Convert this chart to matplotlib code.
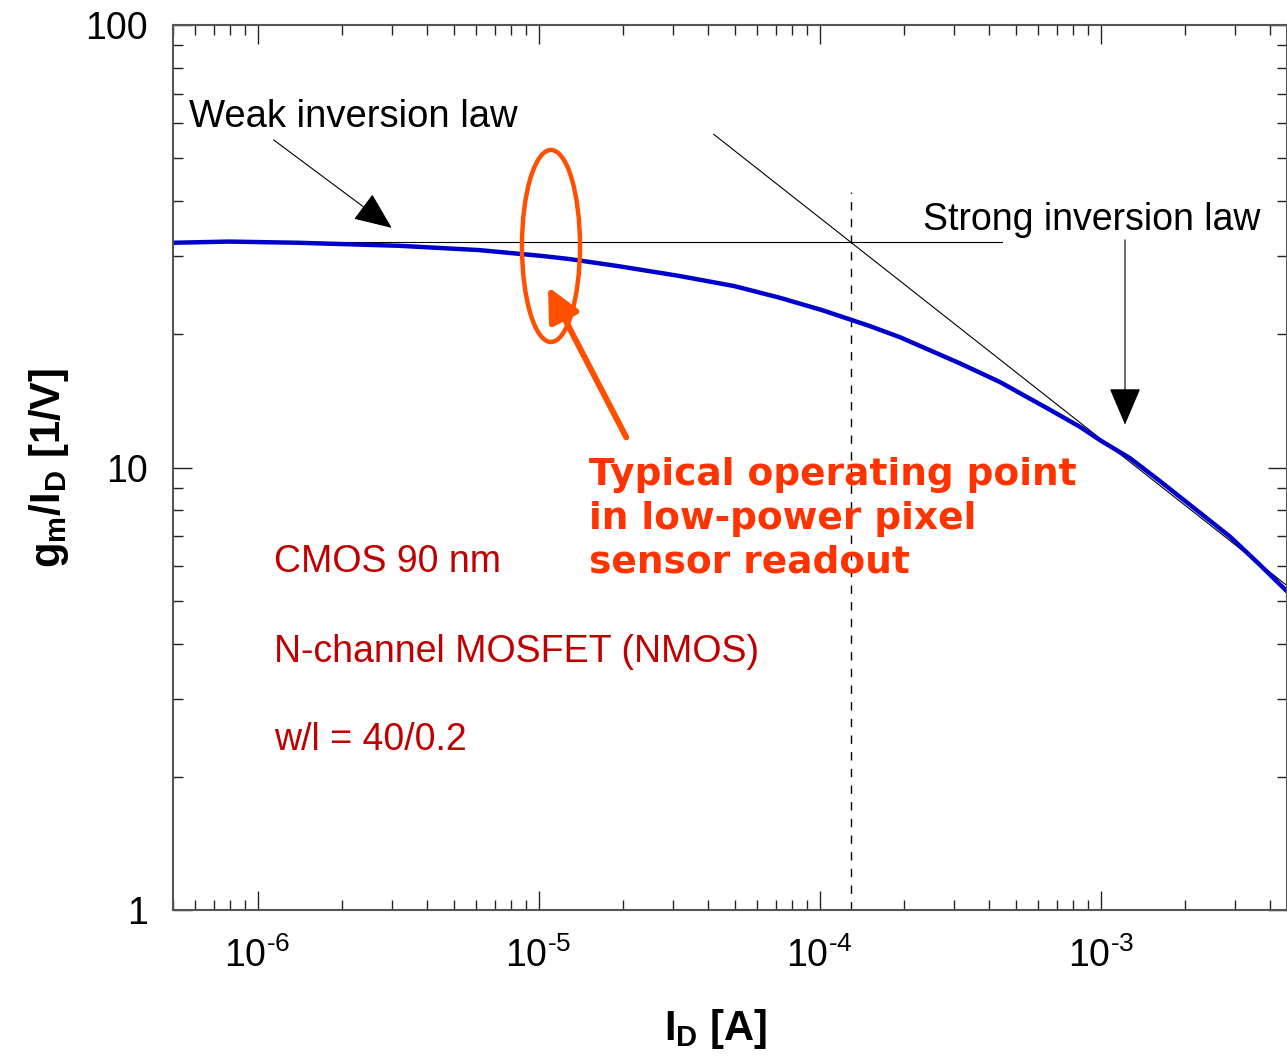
import matplotlib
matplotlib.use("Agg")
import matplotlib.pyplot as plt
from matplotlib.patches import Ellipse
from matplotlib.ticker import LogLocator, NullFormatter

plt.rcParams['font.family'] = ['Liberation Sans', 'DejaVu Sans']
plt.rcParams['mathtext.fontset'] = 'custom'
plt.rcParams['mathtext.rm'] = 'Liberation Sans'
plt.rcParams['mathtext.it'] = 'Liberation Sans:italic'
plt.rcParams['mathtext.bf'] = 'Liberation Sans:bold'

# gm/ID curve (NMOS 90 nm, w/l = 40/0.2)
id_amp = [5.0e-7, 7.9e-7, 1.4e-6, 3.18e-6, 6.13e-6, 1.01e-5, 1.28e-5, 1.93e-5,
          3.16e-5, 4.97e-5, 7.19e-5, 1.015e-4, 1.5e-4, 1.93e-4, 3.15e-4,
          4.38e-4, 6.6e-4, 8.45e-4, 1.0e-3, 1.27e-3, 1.63e-3, 2.26e-3,
          2.89e-3, 3.69e-3, 4.6e-3]
gm_id = [32.2, 32.4, 32.2, 31.7, 31.0, 30.1, 29.6, 28.5,
         27.1, 25.7, 24.2, 22.7, 20.9, 19.7, 17.2,
         15.6, 13.5, 12.35, 11.5, 10.5, 9.3, 7.89,
         6.97, 6.02, 5.25]

# asymptotes
weak_x = [5.0e-7, 4.44e-4]
weak_y = [32.3, 32.3]
strong_x = [4.2e-5, 4.6e-3]
strong_y = [56.6, 5.41]
cross_x = 1.29e-4
cross_ytop = 42.0

xticks = [1e-6, 1e-5, 1e-4, 1e-3]
xtick_labels = [r'10$^{\text{-6}}$', r'10$^{\text{-5}}$', r'10$^{\text{-4}}$', r'10$^{\text{-3}}$']
yticks = [1, 10, 100]
ytick_labels = ['1', '10', '100']

info_lines = ['CMOS 90 nm', 'N-channel MOSFET (NMOS)', 'w/l = 40/0.2']
info_y = [5.80, 3.64, 2.30]
op_lines = ['Typical operating point', 'in low-power pixel', 'sensor readout']
op_y = [9.13, 7.26, 5.78]

fig = plt.figure(figsize=(12.87, 10.63), dpi=100)
ax = fig.add_axes([173/1287, 1 - 910/1063, 1114/1287, 885/1063])

ax.set_xscale('log')
ax.set_yscale('log')
ax.set_xlim(5.0e-7, 4.6e-3)
ax.set_ylim(1, 100)

ax.plot(weak_x, weak_y, color='black', lw=0.8)
ax.plot(strong_x, strong_y, color='black', lw=0.8)
ax.plot([cross_x, cross_x], [1, cross_ytop], color='black', lw=1.0,
        linestyle=(0, (6, 6)))
ax.plot(id_amp, gm_id, color='#0000CC', lw=3.2, solid_capstyle='round',
        solid_joinstyle='round')

# axes styling
for sp in ax.spines.values():
    sp.set_color('#555555')
    sp.set_linewidth(1.5)
ax.tick_params(which='both', direction='in', top=True, right=True,
               colors='#222222', labelcolor='black')
ax.tick_params(which='major', length=14, width=1.0, labelsize=27)
ax.tick_params(which='minor', length=7, width=1.0)
ax.tick_params(axis='y', which='major', pad=18)
ax.tick_params(axis='x', which='major', pad=20)
ax.set_xticks(xticks)
ax.set_xticklabels(xtick_labels)
ax.xaxis.set_minor_locator(LogLocator(base=10, subs=range(2, 10), numticks=20))
ax.xaxis.set_minor_formatter(NullFormatter())
ax.set_yticks(yticks)
ax.set_yticklabels(ytick_labels)
ax.yaxis.set_minor_locator(LogLocator(base=10, subs=range(2, 10), numticks=20))
ax.yaxis.set_minor_formatter(NullFormatter())

ax.set_xlabel(r'$\mathbf{I_D}$ [A]', fontsize=30, fontweight='bold', labelpad=26)
ax.xaxis.set_label_coords(0.487, -0.11)
ax.set_ylabel(r'$\mathbf{g_m/I_D}$ [1/V]', fontsize=30, fontweight='bold', labelpad=10)

# annotations
ax.text(5.68e-7, 58.8, 'Weak inversion law', fontsize=27.5, ha='left', va='baseline')
ax.text(2.34e-4, 34.4, 'Strong inversion law', fontsize=27, ha='left', va='baseline')

ax.annotate('', xy=(3.0e-6, 34.8), xytext=(1.14e-6, 55.0),
            arrowprops=dict(arrowstyle='-|>,head_length=0.4,head_width=0.17',
                            mutation_scale=60, color='black', lw=0.8,
                            shrinkA=0, shrinkB=0))
ax.annotate('', xy=(1.22e-3, 12.5), xytext=(1.22e-3, 32.7),
            arrowprops=dict(arrowstyle='-|>,head_length=0.4,head_width=0.17',
                            mutation_scale=60, color='black', lw=0.8,
                            shrinkA=0, shrinkB=0))

for txt, yv in zip(info_lines, info_y):
    ax.text(1.14e-6, yv, txt, fontsize=27, color='#C00000', ha='left', va='baseline')

for txt, yv in zip(op_lines, op_y):
    ax.text(1.512e-5, yv, txt, fontsize=27, color='#FF3300', fontweight='bold',
            family='DejaVu Sans', ha='left', va='baseline')

ax.add_patch(Ellipse((0.3393, 0.7503), 0.0521, 0.217, transform=ax.transAxes,
                     fill=False, edgecolor='#FF5000', lw=3.2, zorder=5))
ax.annotate('', xy=(1.08e-5, 25.6), xytext=(2.05e-5, 11.7),
            arrowprops=dict(arrowstyle='-|>,head_length=0.45,head_width=0.22',
                            mutation_scale=45, color='#FF5000', lw=4.3,
                            shrinkA=0, shrinkB=0), zorder=6)

fig.savefig('out.png', dpi=100)
